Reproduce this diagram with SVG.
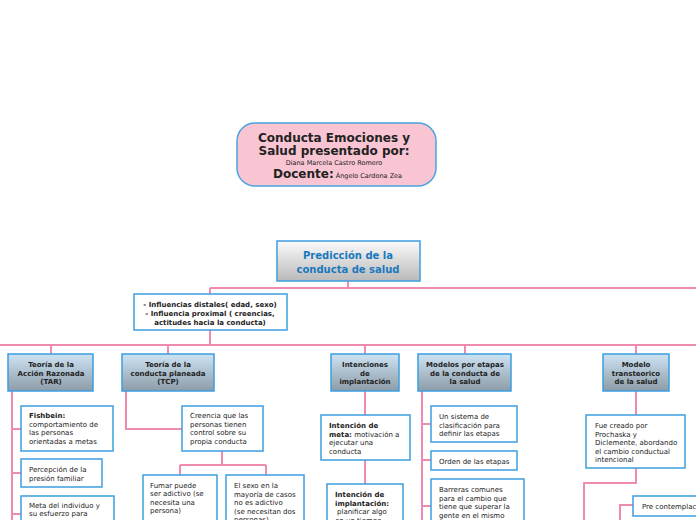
<svg xmlns="http://www.w3.org/2000/svg" width="696" height="520" viewBox="0 0 696 520">
<defs>
<linearGradient id="gCat" x1="0" y1="0" x2="0" y2="1">
<stop offset="0" stop-color="#cde3f4"/>
<stop offset="1" stop-color="#8d9ca7"/>
</linearGradient>
<linearGradient id="gPred" x1="0" y1="0" x2="0" y2="1">
<stop offset="0" stop-color="#fbfbfb"/>
<stop offset="1" stop-color="#b9b9b9"/>
</linearGradient>
<style>
.box{fill:#fff;stroke:#3b9fe0;stroke-width:1.5}
.cat{fill:url(#gCat);stroke:#3b9fe0;stroke-width:1.5}
.t{font-family:"DejaVu Sans",Verdana,sans-serif;font-size:7px;fill:#222}
.b{font-weight:bold}
.c{text-anchor:middle}
.big{font-size:12px}
.sm{font-size:6.5px}
.pred{font-size:10px;fill:#1a78bd}
.con{fill:none;stroke:#ef8ab0;stroke-width:2}
</style>
</defs>
<rect width="696" height="520" fill="#fff"/>

<g id="connectors">
<path class="con" d="M348,281V288M210,288H696M210,288V294"/>
<path class="con" d="M210,330V345M0,345H696M51,345V354M168,345V354M365,345V354M465,345V354M636,345V354"/>
<path class="con" d="M12,391V520M12,429H21M12,473H21M12,514H21"/>
<path class="con" d="M126,391V429H182"/>
<path class="con" d="M222,451V465M180,465H266M180,465V475M266,465V475"/>
<path class="con" d="M365,391V415M365,460V484"/>
<path class="con" d="M422,391V520M422,424H431M422,460H431M422,506H431"/>
<path class="con" d="M636,391V415M636,468V483H584V520"/>
<path class="con" d="M620,520V505H633"/>
</g>

<g id="title">
<rect x="237" y="123" width="199" height="63" rx="18" fill="#f9c5d3" stroke="#4aa3df" stroke-width="1.5"/>
<text class="t b c big" x="334" y="142">Conducta Emociones y</text>
<text class="t b c big" x="334" y="155">Salud presentado por:</text>
<text class="t c sm" x="334" y="165">Diana Marcela Castro Romero</text>
<text class="t" x="273" y="178"><tspan class="b big">Docente:</tspan><tspan class="sm"> Ángelo Cardona Zea</tspan></text>
</g>

<g id="prediccion">
<rect x="277" y="241" width="143" height="40" fill="url(#gPred)" stroke="#3b9fe0" stroke-width="1.5"/>
<text class="t b c pred" x="348" y="259">Predicción de la</text>
<text class="t b c pred" x="348" y="273">conducta de salud</text>
</g>

<g id="influencias">
<rect class="box" x="134" y="294" width="153" height="36"/>
<text class="t b c" x="210" y="307">- Influencias distales( edad, sexo)</text>
<text class="t b c" x="210" y="316">- Influencia proximal ( creencias,</text>
<text class="t b c" x="210" y="324.5">actitudes hacia la conducta)</text>
</g>

<g id="tar">
<rect class="cat" x="8" y="354" width="85" height="37"/>
<text class="t b c" x="51" y="367">Teoría de la</text>
<text class="t b c" x="51" y="375.5">Acción Razonada</text>
<text class="t b c" x="51" y="384">(TAR)</text>
</g>

<g id="fishbein">
<rect class="box" x="21" y="406" width="92" height="45"/>
<text class="t b" x="29" y="418">Fishbein:</text>
<text class="t" x="29" y="426.5">comportamiento de</text>
<text class="t" x="29" y="435">las personas</text>
<text class="t" x="29" y="443.5">orientadas a metas</text>
</g>

<g id="percepcion">
<rect class="box" x="21" y="459" width="81" height="28"/>
<text class="t" x="29" y="472">Percepción de la</text>
<text class="t" x="29" y="480.5">presión familiar</text>
</g>

<g id="meta">
<rect class="box" x="21" y="496" width="93" height="40"/>
<text class="t" x="29" y="507.5">Meta del individuo y</text>
<text class="t" x="29" y="516">su esfuerzo para</text>
</g>

<g id="tcp">
<rect class="cat" x="122" y="354" width="92" height="37"/>
<text class="t b c" x="168" y="367">Teoría de la</text>
<text class="t b c" x="168" y="375.5">conducta planeada</text>
<text class="t b c" x="168" y="384">(TCP)</text>
</g>

<g id="creencia">
<rect class="box" x="182" y="406" width="81" height="45"/>
<text class="t" x="190" y="418">Creencia que las</text>
<text class="t" x="190" y="426.5">personas tienen</text>
<text class="t" x="190" y="435">control sobre su</text>
<text class="t" x="190" y="443.5">propia conducta</text>
</g>

<g id="fumar">
<rect class="box" x="143" y="475" width="74" height="50"/>
<text class="t" x="150" y="487.5">Fumar puede</text>
<text class="t" x="150" y="496">ser adictivo (se</text>
<text class="t" x="150" y="504.5">necesita una</text>
<text class="t" x="150" y="513">persona)</text>
</g>

<g id="sexo">
<rect class="box" x="226" y="475" width="78" height="55"/>
<text class="t" x="234" y="488">El sexo en la</text>
<text class="t" x="234" y="496.5">mayoría de casos</text>
<text class="t" x="234" y="505">no es adictivo</text>
<text class="t" x="234" y="513.5">(se necesitan dos</text>
<text class="t" x="234" y="522">personas)</text>
</g>

<g id="intenciones">
<rect class="cat" x="331" y="354" width="68" height="37"/>
<text class="t b c" x="365" y="367">Intenciones</text>
<text class="t b c" x="365" y="375.5">de</text>
<text class="t b c" x="365" y="384">implantación</text>
</g>

<g id="meta-intencion">
<rect class="box" x="321" y="415" width="89" height="45"/>
<text class="t b" x="329" y="428">Intención de</text>
<text class="t" x="329" y="436.5"><tspan class="b">meta:</tspan> motivación a</text>
<text class="t" x="329" y="445">ejecutar una</text>
<text class="t" x="329" y="453.5">conducta</text>
</g>

<g id="implantacion">
<rect class="box" x="327" y="484" width="76" height="45"/>
<text class="t b" x="335" y="497">Intención de</text>
<text class="t b" x="335" y="505.5">implantación:</text>
<text class="t" x="337" y="514">planificar algo</text>
<text class="t" x="335" y="522.5">en un tiempo</text>
</g>

<g id="modelos">
<rect class="cat" x="418" y="354" width="93" height="37"/>
<text class="t b c" x="465" y="367">Modelos por etapas</text>
<text class="t b c" x="465" y="375.5">de la conducta de</text>
<text class="t b c" x="465" y="384">la salud</text>
</g>

<g id="sistema">
<rect class="box" x="431" y="406" width="86" height="36"/>
<text class="t" x="439" y="419">Un sistema de</text>
<text class="t" x="439" y="427.5">clasificación para</text>
<text class="t" x="439" y="436">definir las etapas</text>
</g>

<g id="orden">
<rect class="box" x="431" y="451" width="86" height="19"/>
<text class="t" x="439" y="464">Orden de las etapas</text>
</g>

<g id="barreras">
<rect class="box" x="431" y="479" width="93" height="45"/>
<text class="t" x="439" y="492">Barreras comunes</text>
<text class="t" x="439" y="500.5">para el cambio que</text>
<text class="t" x="439" y="509">tiene que superar la</text>
<text class="t" x="439" y="517.5">gente en el mismo</text>
</g>

<g id="transteorico">
<rect class="cat" x="603" y="354" width="66" height="37"/>
<text class="t b c" x="636" y="367">Modelo</text>
<text class="t b c" x="636" y="375.5">transteorico</text>
<text class="t b c" x="636" y="384">de la salud</text>
</g>

<g id="prochaska">
<rect class="box" x="586" y="415" width="99" height="53"/>
<text class="t" x="595" y="428">Fue creado por</text>
<text class="t" x="595" y="436.5">Prochaska y</text>
<text class="t" x="595" y="445">Diclemente, abordando</text>
<text class="t" x="595" y="453.5">el cambio conductual</text>
<text class="t" x="595" y="462">intencional</text>
</g>

<g id="precontemplacion">
<rect class="box" x="633" y="496" width="80" height="20"/>
<text class="t" x="642" y="508.5">Pre contemplación</text>
</g>
</svg>
